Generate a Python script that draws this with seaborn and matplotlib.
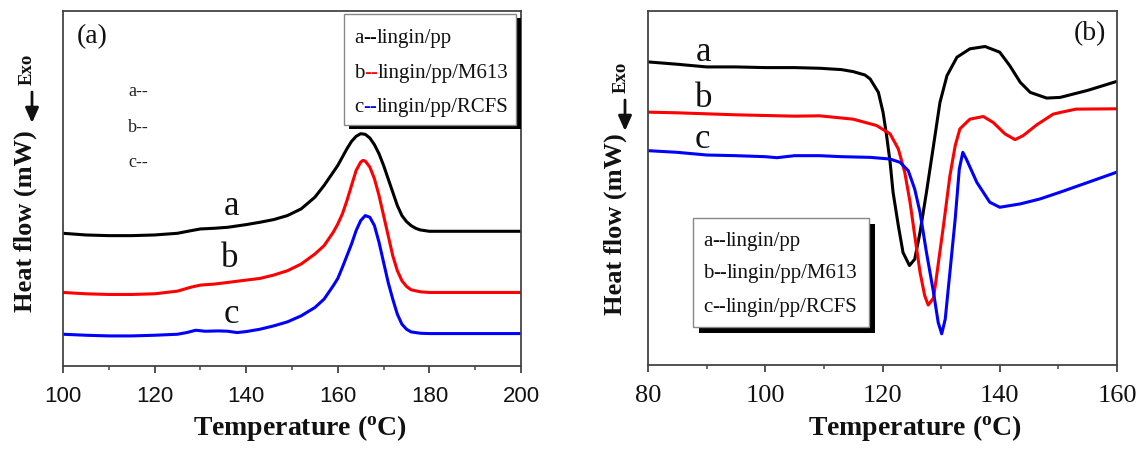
import numpy as np
import pandas as pd
import matplotlib
matplotlib.use("Agg")
import matplotlib.pyplot as plt
from matplotlib.patches import Rectangle, FancyArrowPatch
from matplotlib.ticker import MultipleLocator
import seaborn as sns

# ---------------- data (arbitrary heat-flow units) -------------
# Panel (a): heating curves
temp_a_black = [100, 105, 110, 115, 120, 125, 128, 130, 133, 136, 140, 143, 146, 149, 152, 155, 157, 159,
                160, 161, 162, 163, 164, 165, 166, 167, 168, 169, 170, 171, 172, 173, 174, 175, 176, 177,
                178, 180, 185, 190, 195, 200]
flow_a_black = [397, 392, 390, 390, 392, 397, 405, 410, 412, 415, 423, 430, 438, 450, 470, 505, 540, 580,
                600, 625, 650, 672, 687, 695, 693, 682, 662, 635, 600, 560, 520, 480, 450, 432, 420, 412,
                407, 403, 403, 403, 403, 403]

temp_a_red = [100, 105, 110, 115, 120, 125, 128, 130, 133, 136, 140, 143, 146, 149, 152, 155, 157, 159,
              160, 161, 162, 163, 164, 165, 165.5, 166, 167, 168, 169, 170, 171, 172, 173, 174, 175, 176,
              178, 180, 190, 200]
flow_a_red = [220, 216, 214, 214, 216, 224, 236, 242, 245, 250, 257, 262, 272, 285, 305, 335, 360, 400,
              425, 455, 495, 540, 585, 610, 615, 613, 595, 560, 510, 450, 390, 330, 285, 255, 238, 228,
              222, 220, 220, 220]

temp_a_blue = [100, 105, 110, 115, 120, 125, 127, 129, 131, 134, 136, 138, 140, 143, 146, 149, 152, 155,
               157, 159, 160, 161, 162, 163, 164, 165, 166, 167, 168, 169, 170, 171, 172, 173, 174, 175,
               176, 178, 180, 190, 200]
flow_a_blue = [95, 92, 90, 90, 92, 95, 100, 107, 104, 105, 104, 100, 103, 110, 120, 132, 150, 175,
               200, 240, 262, 295, 330, 365, 405, 435, 450, 445, 420, 370, 310, 250, 200, 155, 125, 110,
               102, 98, 97, 97, 97]

# Panel (b): cooling curves
temp_b_black = [80, 85, 90, 95, 100, 105, 109.3, 113, 115, 117, 117.9, 119.3, 120.1, 120.7, 121.3, 121.8,
                122.7, 123.5, 124.6, 125.5, 126.4, 127.5, 128.7, 129.8, 131, 132.7, 134.9, 137.5, 140,
                141.7, 143.5, 145.2, 148, 150.3, 155, 160]
flow_b_black = [905, 898, 890, 890, 888, 888, 886, 882, 876, 866, 854, 814, 754, 685, 605, 516,
                416, 336, 297, 316, 396, 516, 655, 784, 864, 919, 944, 951, 934,
                894, 844, 814, 797, 799, 820, 847]

temp_b_red = [80, 85, 90, 95, 100, 105, 109.3, 115, 119, 121.3, 122.7, 123.8, 124.7, 125.5, 126.4, 127.2,
              127.8, 128.7, 129, 130.4, 131.5, 132.4, 133.2, 134.9, 137.2, 138.9, 140.9, 142.6, 144,
              146.3, 149.1, 150.3, 153, 160]
flow_b_red = [755, 753, 750, 747, 745, 743, 744, 734, 715, 690, 645, 575, 486, 386, 277, 207,
              179, 200, 237, 416, 565, 655, 705, 734, 742, 724, 690, 673, 685,
              717, 749, 754, 764, 765]

temp_b_blue = [80, 85, 90, 95, 100, 102, 105, 109.3, 113, 117.9, 121.3, 123, 124.4, 125.5, 126.4, 127.5,
               128.7, 129.5, 130.1, 130.7, 131.5, 132.4, 133.1, 133.7, 134.3, 136.1, 138.3, 140, 143.5,
               146.9, 150.3, 155, 160]
flow_b_blue = [640, 635, 627, 625, 622, 619, 625, 625, 622, 620, 615, 605, 580, 525, 456, 336,
               217, 127, 93, 137, 277, 436, 585, 635, 615, 545, 486, 471, 481,
               496, 516, 545, 576]

curve_letters = ["a", "b", "c"]
legend_names = ["lingin/pp", "lingin/pp/M613", "lingin/pp/RCFS"]
colors = ["#000000", "#ff0000", "#0000ff"]
xticks_a = [100, 120, 140, 160, 180, 200]
xticks_b = [80, 100, 120, 140, 160]

# ---------------- style ----------------
sns.set_style("ticks")
plt.rcParams["font.family"] = ["Liberation Serif", "DejaVu Serif"]
plt.rcParams["mathtext.fontset"] = "custom"
plt.rcParams["mathtext.rm"] = "Liberation Serif"
plt.rcParams["mathtext.bf"] = "Liberation Serif:bold"

W, H = 1141, 452
fig = plt.figure(figsize=(W / 100, H / 100), dpi=100)


def px_axes(l, t, r, b):
    return fig.add_axes([l / W, 1 - b / H, (r - l) / W, (b - t) / H])


ax1 = px_axes(63, 12, 521, 367)
ax2 = px_axes(648, 12, 1117, 366)


def make_df(ts, fs):
    rows = []
    for letter, t, f in zip(curve_letters, ts, fs):
        rows.append(pd.DataFrame({"T": t, "flow": f, "curve": letter}))
    return pd.concat(rows, ignore_index=True)


df_a = make_df([temp_a_black, temp_a_red, temp_a_blue], [flow_a_black, flow_a_red, flow_a_blue])
df_b = make_df([temp_b_black, temp_b_red, temp_b_blue], [flow_b_black, flow_b_red, flow_b_blue])
pal = dict(zip(curve_letters, colors))

for ax, df in ((ax1, df_a), (ax2, df_b)):
    sns.lineplot(data=df, x="T", y="flow", hue="curve", palette=pal, estimator=None, sort=False,
                 lw=2.2, legend=False, ax=ax)
    for ln in ax.get_lines():
        ln.set_solid_joinstyle("round")
        ln.set_solid_capstyle("round")

ax1.set_xlim(100, 200)
ax1.set_ylim(0, 1062)
ax2.set_xlim(80, 160)
ax2.set_ylim(0, 1057)

for ax, ticks in ((ax1, xticks_a), (ax2, xticks_b)):
    ax.set_xticks(ticks)
    ax.xaxis.set_minor_locator(MultipleLocator(10))
    ax.set_yticks([])
    ax.set_xlabel("")
    ax.set_ylabel("")
    for s in ax.spines.values():
        s.set_color("#444444")
        s.set_linewidth(1.3)
    ax.tick_params(axis="x", which="major", direction="out", length=5, width=1.3, color="#444444", pad=9)
    ax.tick_params(axis="x", which="minor", direction="out", length=3, width=1.1, color="#444444")

for lab in ax1.get_xticklabels():
    lab.set_fontfamily(["Liberation Sans", "DejaVu Sans"])
    lab.set_fontsize(16)
    lab.set_color("#111111")
for lab in ax2.get_xticklabels():
    lab.set_fontsize(19)
    lab.set_color("#111111")

xlabel = r"Temperature ($\mathbf{{}^{o}}$C)"
for ax, xc, yc in ((ax1, 0.517, -0.172), (ax2, 0.57, -0.175)):
    ax.text(xc, yc, xlabel, transform=ax.transAxes, ha="center", va="center",
            fontsize=20, fontweight="bold", color="#111111")

for ax, xc, yc in ((ax1, -0.083, 0.41), (ax2, -0.07, 0.40)):
    ax.text(xc, yc, "Heat flow (mW)", transform=ax.transAxes, ha="center", va="center",
            rotation=90, fontsize=19, fontweight="bold", color="#111111")

# Exo arrows
for ex, ey, ax_x, y0, y1 in ((27, 69, 32, 93, 124), (621, 77, 625, 101, 132)):
    fig.text(ex / W, 1 - ey / H, "Exo", rotation=90, ha="center", va="center",
             fontsize=13.5, fontweight="bold", color="#111111")
    fig.add_artist(FancyArrowPatch(
        (ax_x / W, 1 - y0 / H), (ax_x / W, 1 - y1 / H), transform=fig.transFigure,
        arrowstyle="-|>,head_length=9,head_width=4", lw=2.0, color="#111111", mutation_scale=1,
        shrinkA=0, shrinkB=0))

# panel tags
ax1.text(0.031, 0.93, "(a)", transform=ax1.transAxes, ha="left", va="center", fontsize=20, color="#111111")
ax2.text(0.908, 0.94, "(b)", transform=ax2.transAxes, ha="left", va="center", fontsize=20, color="#111111")

# curve letters
for ax, xs, ys in ((ax1, [136.8, 136.5, 136.8], [480, 326, 156]),
                   (ax2, [89.5, 89.5, 89.3], [937, 800, 675])):
    for letter, x, y in zip(curve_letters, xs, ys):
        ax.text(x, y, letter, ha="center", va="center", fontsize=25, color="#111111")

# small "a--, b--, c--" marks in panel (a)
for letter, y in zip(curve_letters, [0.775, 0.676, 0.577]):
    ax1.text(0.142, y, letter + "--", transform=ax1.transAxes, ha="left", va="center",
             fontsize=13, color="#222222")


def boxed_legend(ax, x0, y0, x1, y1, dx, dy, text_x, text_ys, colored):
    shadow = Rectangle((x0 + dx, y0 - dy), x1 - x0, y1 - y0, transform=ax.transAxes,
                       facecolor="black", edgecolor="none", zorder=5)
    box = Rectangle((x0, y0), x1 - x0, y1 - y0, transform=ax.transAxes,
                    facecolor="white", edgecolor="#888888", lw=1.0, zorder=6)
    ax.add_patch(shadow)
    ax.add_patch(box)
    for letter, name, col, ty in zip(curve_letters, legend_names, colors, text_ys):
        t0 = ax.text(text_x, ty, letter, transform=ax.transAxes, ha="left", va="center",
                     fontsize=15, color="#111111", zorder=7)
        dash_col = col if colored else "#111111"
        t1 = ax.annotate("--", xy=(1, 0), xycoords=t0, ha="left", va="bottom",
                         fontsize=15, color=dash_col, zorder=7)
        ax.annotate(name, xy=(1, 0), xycoords=t1, ha="left", va="bottom",
                    fontsize=15, color="#111111", zorder=7)


boxed_legend(ax1, 0.6135, 0.679, 0.989, 0.9915, 0.011, 0.011, 0.635, [0.924, 0.828, 0.732], True)
boxed_legend(ax2, 0.096, 0.107, 0.471, 0.415, 0.013, 0.017, 0.117, [0.353, 0.260, 0.164], False)

fig.savefig("out.png", dpi=100, facecolor="white")
